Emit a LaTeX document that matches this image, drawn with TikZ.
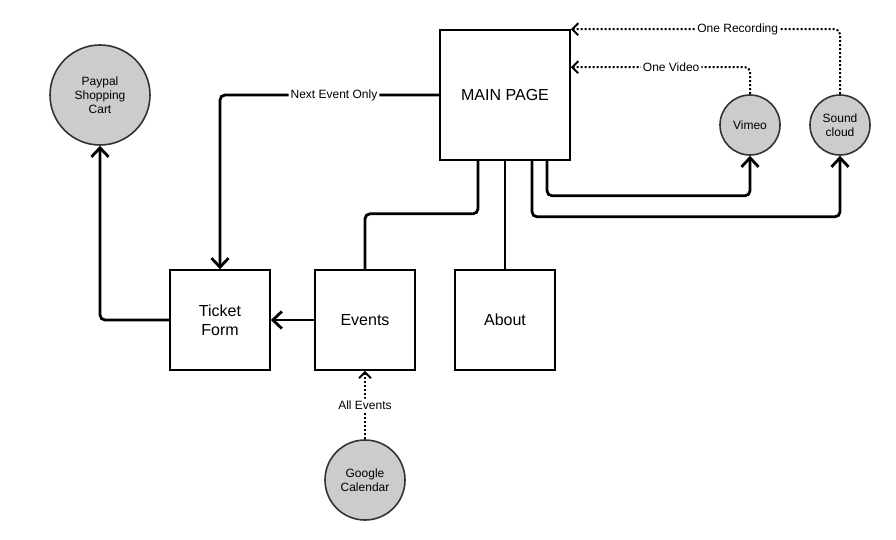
\documentclass[tikz,border=0pt]{standalone}
\usepackage{fontspec}
\setmainfont{Liberation Sans}
\usetikzlibrary{arrows.meta}

\begin{document}
\begin{tikzpicture}[
    x=1pt, y=-1pt,
    page/.style={rectangle, draw, line width=1.6pt, minimum size=100pt, align=center, font=\fontsize{16}{19}\selectfont},
    service/.style={circle, draw=black!80, fill=black!20, line width=1.6pt, inner sep=0pt, align=center, font=\fontsize{12}{14}\selectfont},
    link/.style={line width=2.8pt, rounded corners=5pt},
    pointer/.style={link, -{Straight Barb[length=9pt,width=17pt,line width=2.8pt]}},
    feed/.style={line width=2pt, dash pattern=on 2pt off 2pt, rounded corners=5pt, -{Straight Barb[length=6pt,width=12pt,line width=2pt]}},
    lbl/.style={fill=white, inner sep=2pt, font=\fontsize{12}{14}\selectfont}
]
\useasboundingbox (0,0) rectangle (896,540);
% Pages
\node[page, minimum size=130pt] (main) at (505,95) {MAIN PAGE};
\node[page] (ticket) at (220,320) {Ticket\\Form};
\node[page] (events) at (365,320) {Events};
\node[page] (about) at (505,320) {About};
% Outside services
\node[service, minimum size=100pt] (paypal) at (100,95) {Paypal\\Shopping\\Cart};
\node[service, minimum size=60pt] (vimeo) at (750,125) {Vimeo};
\node[service, minimum size=60pt] (sound) at (840,125) {Sound\\cloud};
\node[service, minimum size=80pt] (gcal) at (365,480) {Google\\Calendar};
% Site links
\draw[pointer] (main.west) -| node[lbl, pos=0.24] {Next Event Only} (ticket.north);
\draw[link] ([xshift=-27pt]main.south) -- ++(0,53) -| (events.north);
\draw[link] (main.south) -- (about.north);
\draw[pointer] ([xshift=42pt]main.south) -- ++(0,35) -| (vimeo.south);
\draw[pointer] ([xshift=27pt]main.south) -- ++(0,56) -| (sound.south);
\draw[pointer] (events.west) -- (ticket.east);
\draw[pointer] (ticket.west) -| (paypal.south);
% Feeds
\draw[feed] (vimeo.north) |- node[lbl, pos=0.72] {One Video} ([yshift=-38pt]main.north east);
\draw[feed] (sound.north) |- node[lbl, pos=0.69] {One Recording} (main.north east);
\draw[feed] (gcal.north) -- node[lbl] {All Events} (events.south);
\end{tikzpicture}
\end{document}
